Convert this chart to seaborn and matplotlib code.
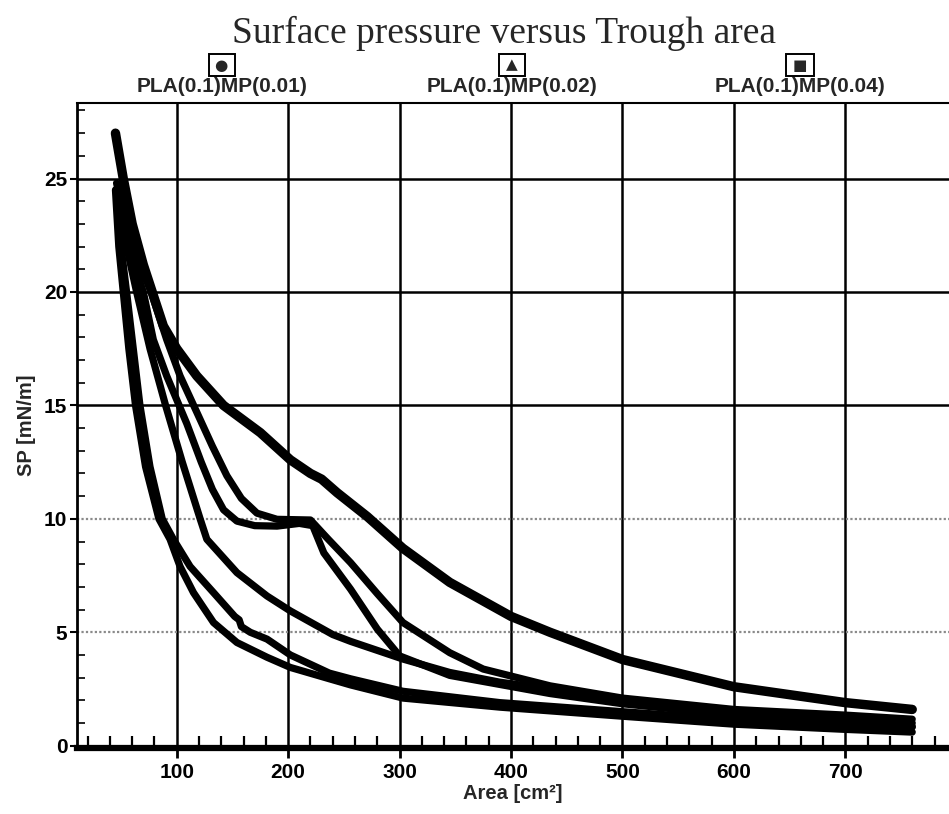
import matplotlib
matplotlib.use('Agg')
import matplotlib.pyplot as plt
import seaborn as sns
import pandas as pd
from matplotlib.ticker import MultipleLocator

# ---------------- data ----------------
title = "Surface pressure versus Trough area"
legend_labels = ["PLA(0.1)MP(0.01)", "PLA(0.1)MP(0.02)", "PLA(0.1)MP(0.04)"]
legend_markers = ["\u25CF", "\u25B2", "\u25A0"]
x_label = "Area [cm\u00b2]"
y_label = "SP [mN/m]"
x_ticks = [100, 200, 300, 400, 500, 600, 700]
y_ticks = [0, 5, 10, 15, 20, 25]

# top compression curve with shoulder
c1_area = [45, 52, 60, 70, 80, 88, 100, 118, 142, 175, 202, 220, 230, 244, 271, 303, 345, 400, 435, 500, 600, 700, 760]
c1_sp = [27.0, 25.0, 23.0, 21.2, 19.7, 18.5, 17.5, 16.3, 15.0, 13.8, 12.6, 12.0, 11.75, 11.15, 10.1, 8.7, 7.2, 5.7, 5.0, 3.8, 2.6, 1.9, 1.6]

# plateau curve 1 (upper branch)
p1_area = [46, 52, 62, 77, 91, 103, 118, 132, 145, 158, 172, 190, 220, 236, 256, 280, 303, 345, 375, 435, 500, 600, 700, 760]
p1_sp = [24.8, 23.5, 21.8, 20.0, 17.9, 16.3, 14.7, 13.2, 11.9, 10.9, 10.25, 9.98, 9.95, 9.1, 8.07, 6.7, 5.43, 4.1, 3.38, 2.64, 2.1, 1.6, 1.35, 1.17]

# plateau curve 2 (steeper branch)
p2_area = [46, 52, 60, 70, 79, 91, 109, 122, 132, 142, 154, 170, 190, 210, 222, 232, 256, 280, 300, 345, 435, 500, 600, 700, 760]
p2_sp = [24.5, 23.0, 21.5, 20.0, 17.9, 16.3, 14.2, 12.5, 11.3, 10.4, 9.9, 9.7, 9.68, 9.8, 9.7, 8.5, 6.9, 5.14, 3.96, 3.1, 2.3, 1.85, 1.35, 1.0, 0.85]

# middle expansion curve
m_area = [46, 55, 64, 76, 90, 105, 121, 127, 154, 181, 202, 240, 256, 303, 345, 390, 435, 500, 600, 700, 760]
m_sp = [24.5, 22.0, 20.0, 17.5, 15.0, 12.5, 10.0, 9.1, 7.63, 6.6, 5.94, 4.9, 4.6, 3.82, 3.23, 2.8, 2.5, 2.0, 1.5, 1.2, 1.0]

# lower expansion curves
a_area = [45, 48, 52, 57, 63, 72, 84, 94, 103, 115, 133, 154, 181, 202, 237, 256, 303, 390, 500, 600, 700, 760]
a_sp = [24.5, 22.0, 20.0, 17.5, 15.0, 12.3, 10.0, 9.1, 7.9, 6.75, 5.43, 4.55, 3.9, 3.45, 2.95, 2.68, 2.1, 1.7, 1.3, 0.95, 0.72, 0.6]

b_area = [46, 50, 55, 61, 67, 76, 87, 97, 112, 133, 152, 156, 158, 166, 181, 202, 237, 256, 303, 390, 500, 600, 700, 760]
b_sp = [24.5, 22.0, 20.0, 17.5, 15.0, 12.3, 10.0, 9.1, 7.9, 6.75, 5.7, 5.55, 5.25, 5.0, 4.7, 4.0, 3.2, 2.95, 2.4, 1.9, 1.5, 1.15, 0.9, 0.82]

curves = {
    "c1": (c1_area, c1_sp),
    "p1": (p1_area, p1_sp),
    "p2": (p2_area, p2_sp),
    "m": (m_area, m_sp),
    "a": (a_area, a_sp),
    "b": (b_area, b_sp),
}

rows = []
for name, (xs, ys) in curves.items():
    for i, (x, y) in enumerate(zip(xs, ys)):
        rows.append({"curve": name, "order": i, "area": x, "sp": y})
df = pd.DataFrame(rows)

# ---------------- style ----------------
sns.set_style("white")
plt.rcParams['font.family'] = ['Liberation Sans', 'DejaVu Sans']

W, H = 949, 814
fig = plt.figure(figsize=(W / 100, H / 100), dpi=100)
ax = fig.add_axes([77 / W, 1 - 748 / H, (W - 77) / W, (748 - 103) / H])

thin = df[df["curve"] != "c1"]
thick = df[df["curve"] == "c1"]
sns.lineplot(data=thin, x="area", y="sp", units="curve", estimator=None, sort=False,
             color="black", linewidth=5.2, legend=False, ax=ax,
             solid_joinstyle="round", solid_capstyle="round", zorder=3)
sns.lineplot(data=thick, x="area", y="sp", units="curve", estimator=None, sort=False,
             color="black", linewidth=6.8, legend=False, ax=ax,
             solid_joinstyle="round", solid_capstyle="round", zorder=3)

ax.set_xlim(10.5, 793)
ax.set_ylim(-0.1, 28.33)
ax.set_xticks(x_ticks)
ax.set_yticks(y_ticks)
ax.xaxis.set_minor_locator(MultipleLocator(20))
ax.yaxis.set_minor_locator(MultipleLocator(1))

ax.grid(True, which="major", axis="both", color="black", linewidth=1.8)
for val, gl in zip(y_ticks, ax.get_ygridlines()):
    if val in (5, 10):
        gl.set_color("#8a8a8a")
        gl.set_linestyle((0, (1, 1)))
        gl.set_linewidth(1.6)
    if val == 0:
        gl.set_visible(False)
ax.set_axisbelow(True)

ax.tick_params(axis="x", which="major", direction="out", length=7, width=2, labelsize=15, pad=4, colors="black")
ax.tick_params(axis="x", which="minor", direction="in", length=9, width=1.6, colors="black")
ax.tick_params(axis="y", which="major", direction="out", length=5, width=1.5, labelsize=15, pad=2, colors="black")
ax.tick_params(axis="y", which="minor", direction="in", length=6, width=1.2, colors="black")
ax.tick_params(bottom=True, left=True, which="both")
for lab in ax.get_xticklabels() + ax.get_yticklabels():
    lab.set_fontweight("bold")

ax.spines["right"].set_visible(False)
ax.spines["left"].set_linewidth(2)
ax.spines["left"].set_color("black")
ax.spines["top"].set_linewidth(1.5)
ax.spines["top"].set_color("black")
ax.spines["bottom"].set_linewidth(4.5)
ax.spines["bottom"].set_color("black")

ax.set_xlabel(x_label, fontsize=14.5, fontweight="bold", labelpad=1)
ax.set_ylabel(y_label, fontsize=14.5, fontweight="bold", labelpad=6)

# title and legend
fig.text(504 / W, 1 - 33 / H, title, family="Liberation Serif", fontsize=27,
         ha="center", va="center")
leg_x = [222, 512, 800]
for lx, mk, lab in zip(leg_x, legend_markers, legend_labels):
    fig.text(lx / W, 1 - 65 / H, "\u2009" + mk + "\u2009", ha="center", va="center", fontsize=11,
             family="DejaVu Sans",
             bbox=dict(boxstyle="square,pad=0.25", fc="white", ec="black", lw=1.4))
    fig.text(lx / W, 1 - 87 / H, lab, ha="center", va="center", fontsize=15, fontweight="bold")

fig.savefig("out.png", dpi=100)
